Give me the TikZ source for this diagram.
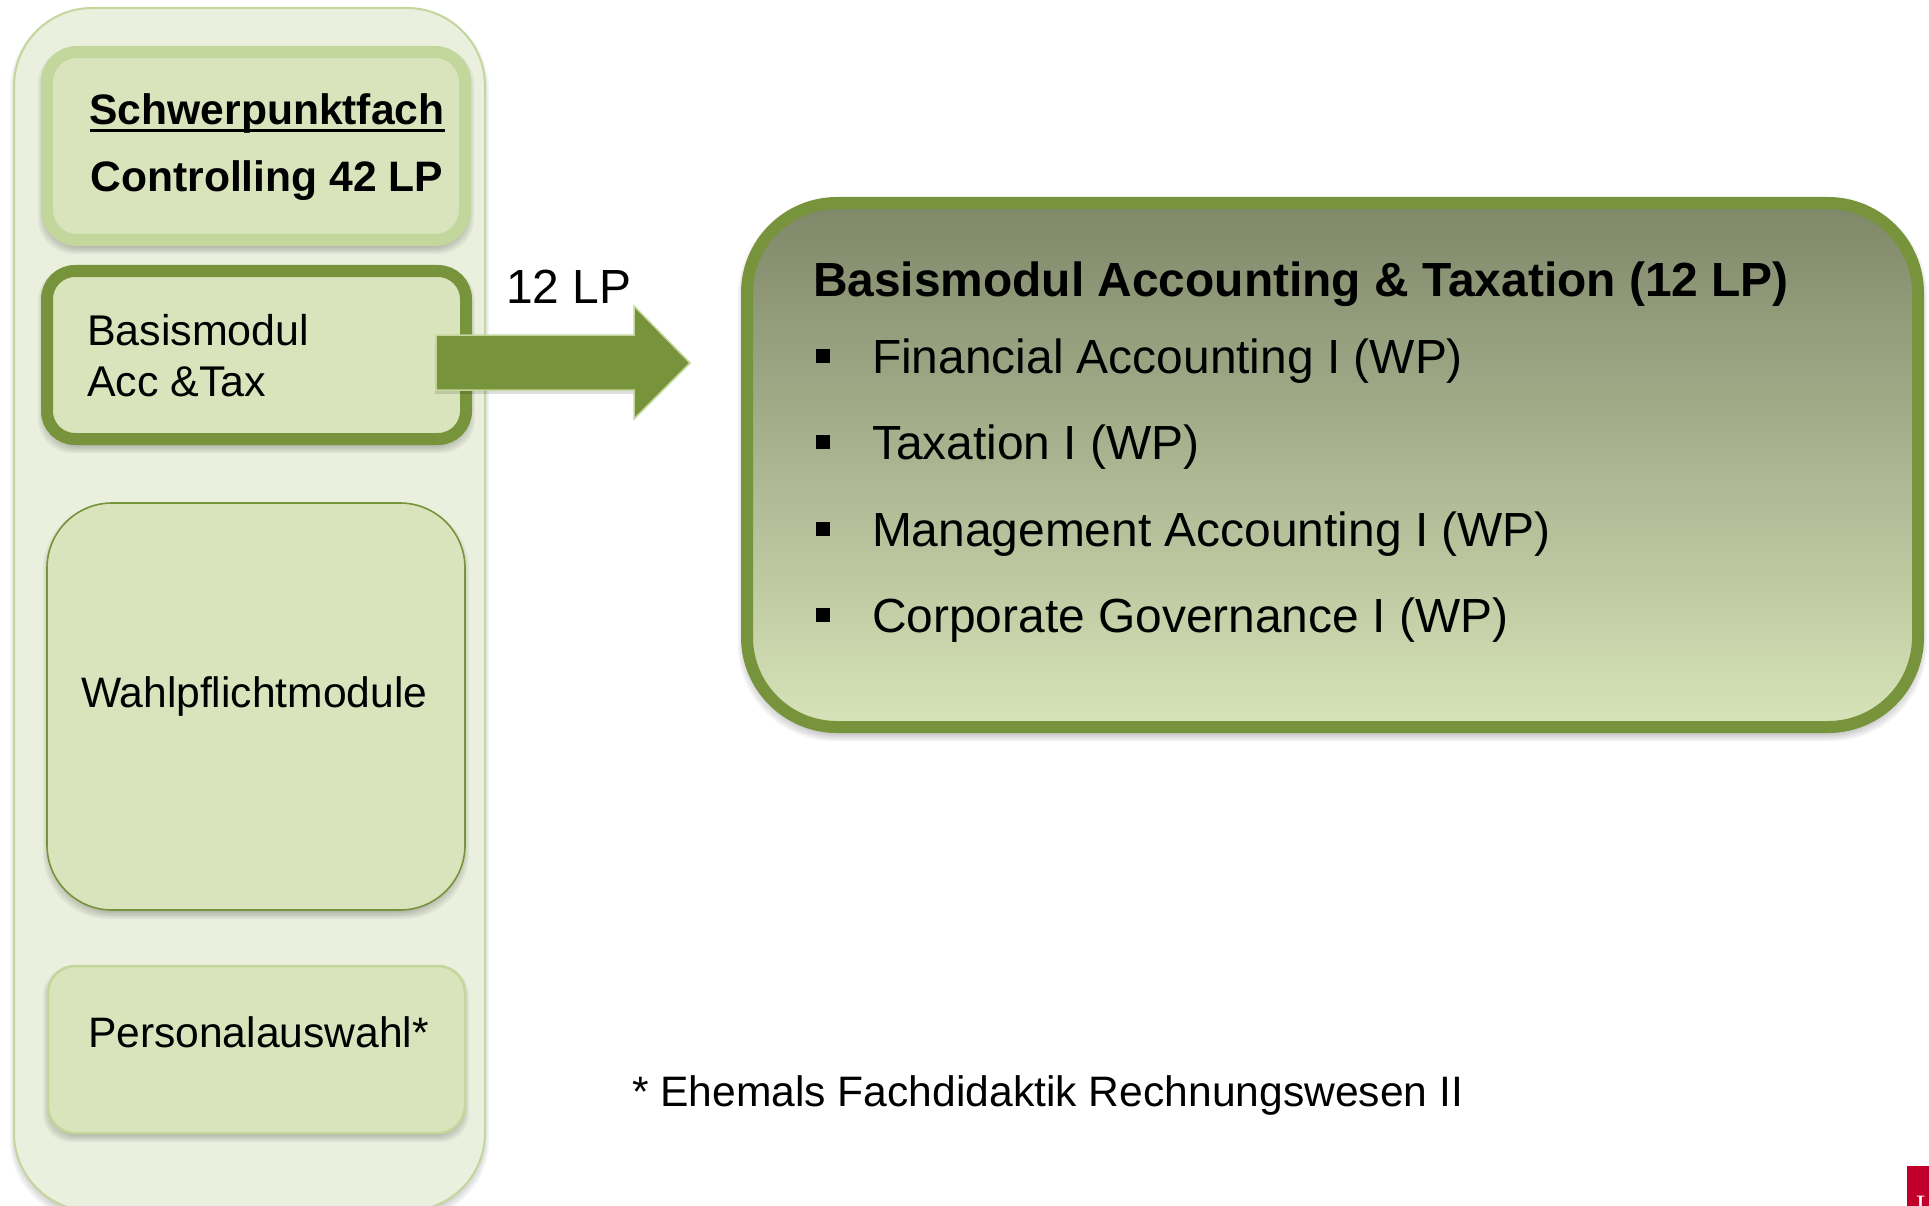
\documentclass[tikz,border=0pt]{standalone}
\usepackage{fontspec}
\setmainfont{Liberation Sans}
\newfontfamily\logofont{Liberation Serif}
\definecolor{dkgreen}{HTML}{77933C}
\definecolor{ltborder}{HTML}{C3D69B}
\definecolor{boxfill}{HTML}{D9E4BC}
\definecolor{panelfill}{HTML}{EAEFDE}
\definecolor{gradtop}{HTML}{7F8769}
\definecolor{gradmid}{HTML}{AFBC93}
\definecolor{gradbot}{HTML}{D7E3B8}
\definecolor{logored}{HTML}{C0002A}
\newcommand{\softshadow}[5]{% x1 y1 x2 y2 r
  \foreach \i in {-3,-1.5,...,4.5}{
    \pgfmathsetmacro{\ax}{#1+\i}
    \pgfmathsetmacro{\ay}{#2+\i+5}
    \pgfmathsetmacro{\bx}{#3-\i}
    \pgfmathsetmacro{\by}{#4-\i+5}
    \fill[black,opacity=0.045,rounded corners=#5pt] (\ax,\ay) rectangle (\bx,\by);
  }}
\tikzset{
  panel/.style={rectangle,inner sep=0pt,outer sep=0pt},
  lbl/.style={anchor=base west,inner sep=0pt,outer sep=0pt,text=black},
  szsmall/.style={font=\fontsize{42.6}{50}\selectfont},
  szbasis/.style={font=\fontsize{43}{50}\selectfont},
  szlarge/.style={font=\fontsize{47.9}{56}\selectfont},
  bzsmall/.style={font=\fontsize{42.6}{50}\selectfont\bfseries},
  bzlarge/.style={font=\fontsize{47.9}{56}\selectfont\bfseries},
  bulletsq/.style={rectangle,fill=black,inner sep=0pt,minimum size=14.5pt},
}
\begin{document}
\begin{tikzpicture}[x=1pt,y=-1pt]
\useasboundingbox (0,0) rectangle (1929,1206);
% outer column
\softshadow{13}{7}{486}{1212}{80}
\node[panel,draw=ltborder,line width=2pt,fill=panelfill,rounded corners=78pt,minimum width=471pt,minimum height=1203pt] (column) at (249.5,609.5) {};
% Schwerpunktfach
\softshadow{41}{46}{471}{246}{36}
\node[panel,draw=ltborder,line width=12pt,fill=boxfill,rounded corners=30pt,minimum width=418pt,minimum height=188pt] (schwer) at (256,146) {};
\node[lbl,bzsmall] (schwerA) at (89.5,125) {Schwerpunktfach};
\node[lbl,bzsmall] (schwerB) at (90.5,192) {Controlling 42 LP};
\draw[black,line width=2.2pt] ([yshift=-5.5pt]schwerA.base west) -- ([yshift=-5.5pt]schwerA.base east);
% Basismodul
\softshadow{41}{265}{472}{445}{34}
\node[panel,draw=dkgreen,line width=12pt,fill=boxfill,rounded corners=28pt,minimum width=419pt,minimum height=168pt] (basis) at (256.5,355) {};
\node[lbl,szbasis] (basisA) at (87,345) {Basismodul};
\node[lbl,szbasis] (basisB) at (87,396) {Acc \&Tax};
% Wahlpflicht
\softshadow{46}{502}{466}{911}{66}
\node[panel,draw=dkgreen,line width=1.6pt,fill=boxfill,rounded corners=65pt,minimum width=418pt,minimum height=407pt] (wahl) at (256,706.5) {};
\node[lbl,szsmall] (wahlT) at (81,707) {Wahlpflichtmodule};
% Personalauswahl
\softshadow{46}{965}{466}{1134}{28}
\node[panel,draw=ltborder,line width=2.5pt,fill=boxfill,rounded corners=27pt,minimum width=417pt,minimum height=167pt] (pers) at (256.5,1049.5) {};
\node[lbl,szsmall] (persT) at (88,1047) {Personalauswahl*};
% block arrow
\fill[black,opacity=0.12] (435,339) -- (634,339) -- (634,394) -- (435,394) -- cycle;
\filldraw[fill=dkgreen,draw=ltborder,line width=1.5pt,line join=miter]
  (436,335) -- (634,335) -- (634,306) -- (690,363) -- (634,419) -- (634,390) -- (436,390) -- cycle;
\node[lbl,szlarge] (lp) at (506,303) {12 LP};
% main box
\softshadow{741}{197}{1924}{733}{96}
\node[panel,draw=dkgreen,line width=12pt,top color=gradtop,middle color=gradmid,bottom color=gradbot,rounded corners=90pt,minimum width=1171pt,minimum height=524pt] (main) at (1332.5,465) {};
\node[lbl,bzlarge] (title) at (813,296.5) {Basismodul Accounting \& Taxation (12 LP)};
\node[bulletsq] (b1) at (823,356) {};
\node[bulletsq] (b2) at (823,442) {};
\node[bulletsq] (b3) at (823,529) {};
\node[bulletsq] (b4) at (823,615) {};
\node[lbl,szlarge] (i1) at (872,373) {Financial Accounting I (WP)};
\node[lbl,szlarge] (i2) at (872,459) {Taxation I (WP)};
\node[lbl,szlarge] (i3) at (872,546) {Management Accounting I (WP)};
\node[lbl,szlarge] (i4) at (872,632) {Corporate Governance I (WP)};
% footnote
\node[lbl,szsmall] (foot) at (632,1106) {* Ehemals Fachdidaktik Rechnungswesen II};
% logo corner
\fill[logored] (1907,1166) rectangle (1929,1206);
\node[lbl,text=white,font=\fontsize{28}{32}\selectfont\logofont] (logoL) at (1916,1214) {L};
\end{tikzpicture}
\end{document}
